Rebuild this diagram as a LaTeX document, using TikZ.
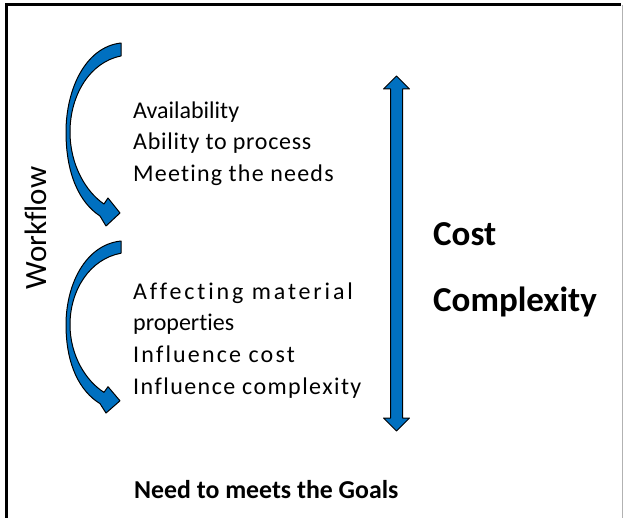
\documentclass[tikz,border=0pt]{standalone}
\usepackage{fontspec}
\setmainfont[Ligatures=NoCommon]{Carlito}
\definecolor{flowblue}{RGB}{0,112,192}
\tikzset{
  item/.style={anchor=base west,inner sep=0pt,font=\fontsize{24}{29}\selectfont\addfontfeature{LetterSpace=#1}},
  big/.style={anchor=base west,inner sep=0pt,font=\fontsize{35}{40}\selectfont\bfseries},
  ribbon/.style={fill=flowblue,draw=black,line width=1pt,line join=round},
}
\begin{document}
\begin{tikzpicture}[x=1pt,y=-1pt]
\useasboundingbox (0,0) rectangle (623,518);
% frame
\draw[line width=3pt] (6.5,518) -- (6.5,4.8) -- (621,4.8);
\draw[gray!60,line width=1pt] (622,4.8) -- (622,518);

% curved workflow arrows
\foreach \t/\s in {43/1, 241/0.94}{
  \begin{scope}[shift={(0,\t)},yscale=\s]
  \draw[ribbon] (121,0) .. controls (85,4) and (66,47) .. (66,89)
    .. controls (66,132) and (80,160) .. (100,173) -- (106,183) -- (120,170)
    -- (108,155) -- (104,161) .. controls (86,149) and (70,122) .. (70,89)
    .. controls (70,52) and (90,19) .. (121,13) -- cycle;
  \end{scope}
}

% cost / complexity arrow
\draw[ribbon] (396.5,76) -- (409.5,89) -- (402.5,89) -- (402.5,418) -- (409.5,418)
  -- (396.5,431) -- (383.5,418) -- (390.5,418) -- (390.5,89) -- (383.5,89) -- cycle;

\node[rotate=90,inner sep=0pt,font=\fontsize{31}{37}\selectfont] (wf) at (36,228) {Workflow};

\foreach \n/\y/\s/\l in {
a1/119/0/Availability,
a2/150/3/Ability to process,
a3/182/5/Meeting the needs,
b1/299/12/Affecting material,
b2/330/0/properties,
b3/362/9/Influence cost,
b4/394/6/Influence complexity
}
{
  \node[item=\s] (\n) at (133,\y) {\l};
}

\node[big] (cost) at (433,246) {Cost};
\node[big] (cplx) at (433,312) {Complexity};
\node[big,font=\fontsize{25.8}{30}\selectfont\bfseries] (goal) at (134,498) {Need to meets the Goals};
\end{tikzpicture}
\end{document}
